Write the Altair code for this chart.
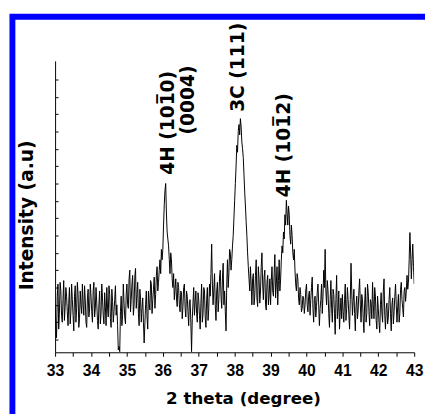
import altair as alt
import pandas as pd

# 2 theta grid: samples every 0.04 deg from 33.00, plus samples half-way between them
theta_start = 33.0
theta_step = 0.04

# intensity (a.u.) at 33.00, 33.04, ... 43.00
intensity_on_grid = [
    # 33.00 - 33.96
    300, 110, 420, 250, 380, 200, 440, 290, 350, 180, 400, 260, 330, 150, 410, 280, 360, 220, 300, 420, 240, 330, 170, 390, 270,
    # 34.00 - 34.96
    350, 200, 430, 280, 310, 160, 380, 250, 340, 190, 290, 400, 230, 360, 170, 320, 260, 410, 300, 40, 30, 350, 240, 310, 190,
    # 35.00 - 35.96
    420, 280, 500, 330, 470, 300, 510, 360, 250, 390, 200, 340, 80, 300, 230, 380, 270, 420, 330, 460, 360, 520, 430, 560, 620,
    # 36.00 - 36.96
    620, 880, 1000, 720, 640, 480, 560, 400, 330, 450, 290, 400, 260, 370, 290, 420, 230, 350, 180, 330, 30, 310, 240, 380, 200,
    # 37.00 - 37.96
    330, 160, 420, 250, 380, 170, 400, 280, 350, 650, 300, 480, 210, 430, 330, 500, 280, 540, 380, 150, 560, 480, 600, 560, 700,
    # 38.00 - 38.96
    900, 1100, 1180, 1340, 1374, 1240, 1150, 950, 780, 600, 450, 520, 300, 480, 350, 560, 290, 450, 380, 600, 330, 500, 270, 470, 360,
    # 39.00 - 39.96
    300, 520, 350, 590, 420, 300, 560, 450, 640, 720, 820, 903, 760, 820, 650, 700, 560, 500, 380, 450, 300, 360, 280, 340, 300,
    # 40.00 - 40.96
    420, 260, 380, 330, 460, 200, 350, 290, 420, 180, 330, 250, 500, 620, 300, 380, 170, 440, 200, 360, 130, 470, 270, 160, 340,
    # 41.00 - 41.96
    360, 200, 420, 280, 330, 160, 540, 240, 390, 150, 350, 270, 450, 200, 330, 140, 400, 250, 370, 180, 310, 430, 220, 350, 160,
    # 42.00 - 43.00
    280, 140, 370, 200, 450, 160, 310, 230, 400, 150, 340, 260, 420, 200, 360, 250, 430, 280, 380, 320, 470, 430, 717, 450, 650, 420,
]
# intensity at 33.02, 33.06, ... 42.98 (half-way samples)
intensity_between = [
    190, 350, 160, 430, 240, 330, 210, 400, 260, 310, 190, 420, 240, 350, 200, 430, 170, 380, 250, 300, 410, 200, 340, 230, 420,
    260, 380, 230, 400, 210, 300, 190, 420, 240, 370, 180, 280, 410, 220, 390, 200, 330, 240, 180, 60, 260, 180, 420, 230, 360,
    300, 450, 260, 420, 240, 460, 280, 430, 180, 330, 280, 200, 190, 380, 160, 310, 440, 250, 390, 280, 470, 380, 500, 480, 560,
    760, 960, 830, 680, 560, 600, 450, 480, 390, 340, 430, 300, 380, 220, 400, 280, 380, 260, 320, 200, 220, 400, 320, 250, 370,
    240, 310, 200, 400, 230, 330, 210, 420, 480, 420, 390, 300, 380, 260, 460, 350, 450, 300, 260, 420, 400, 620, 500, 640, 800,
    1000, 1220, 1300, 1280, 1330, 1200, 1050, 870, 700, 520, 380, 420, 450, 300, 470, 340, 520, 310, 520, 420, 460, 300, 430, 300, 450,
    440, 380, 480, 340, 520, 440, 380, 560, 600, 680, 760, 830, 870, 700, 760, 600, 620, 420, 480, 340, 400, 260, 350, 250, 380,
    300, 350, 240, 400, 280, 330, 230, 370, 300, 280, 420, 350, 400, 380, 440, 250, 330, 280, 390, 250, 330, 220, 380, 260, 220,
    260, 330, 210, 400, 240, 330, 380, 320, 250, 290, 220, 380, 300, 360, 220, 310, 200, 420, 260, 330, 220, 300, 400, 210, 350,
    200, 300, 250, 380, 240, 280, 190, 330, 250, 300, 190, 350, 300, 290, 200, 390, 330, 230, 400, 380, 390, 560, 600, 560, 520,
]

two_theta, intensity = [], []
for i, v in enumerate(intensity_on_grid):
    two_theta.append(round(theta_start + i * theta_step, 2))
    intensity.append(v)
    if i < len(intensity_between):
        two_theta.append(round(theta_start + i * theta_step + theta_step / 2, 2))
        intensity.append(intensity_between[i])

# peak annotations
label_text = ["4H (101\u03050)", "(0004)", "3C (111)", "4H (101\u03052)"]
label_theta = [36.32, 36.88, 38.26, 39.55]
label_intensity = [1050, 1283, 1413, 921]

x_ticks = [33 + 0.5 * i for i in range(21)]
y_ticks = list(range(100, 1700, 100))

df = pd.DataFrame({"two_theta": two_theta, "intensity": intensity})
df_lab = pd.DataFrame({"two_theta": label_theta, "intensity": label_intensity, "label": label_text})
df_frame = pd.DataFrame({"f": [0]})

W, H = 366, 297

x_scale = alt.Scale(domain=[33, 43], nice=False, zero=False)
y_scale = alt.Scale(domain=[26.4, 1707], nice=False, zero=False)

x_axis = alt.Axis(
    values=x_ticks,
    labelExpr="datum.value % 1 === 0 ? format(datum.value, 'd') : ''",
    tickSize=4, tickColor="black", domainColor="black", labelColor="black",
    labelPadding=7, labelFont="Liberation Sans", labelFontSize=16, labelFontWeight="bold",
    labelFlush=False, labelOverlap=False, grid=False,
    title="2 theta (degree)", titleFont="DejaVu Sans", titleFontSize=17, titleFontWeight="bold",
    titleColor="black", titleX=191.5, titleY=52, titleBaseline="alphabetic", titleAlign="center",
)
y_axis = alt.Axis(
    orient="right", offset=-W, values=y_ticks, labels=False, tickSize=3,
    tickColor="black", domainColor="black", grid=False,
    title="Intensity (a.u)", titleFont="DejaVu Sans", titleFontSize=19, titleFontWeight="bold",
    titleColor="black", titleAngle=270, titleX=-23, titleY=157,
    titleAlign="center", titleBaseline="alphabetic",
)

frame = alt.Chart(df_frame).mark_rect(filled=False, stroke="#0000ff", strokeWidth=6).encode(
    x=alt.value(-43.5), x2=alt.value(700), y=alt.value(-45), y2=alt.value(700)
)

line = alt.Chart(df).mark_line(color="black", strokeWidth=1, clip=True).encode(
    x=alt.X("two_theta:Q", scale=x_scale, axis=x_axis),
    y=alt.Y("intensity:Q", scale=y_scale, axis=y_axis),
)

labels = alt.Chart(df_lab).mark_text(
    angle=270, align="left", baseline="alphabetic",
    font="DejaVu Sans", fontWeight="bold", fontSize=19, color="black",
).encode(
    x=alt.X("two_theta:Q", scale=x_scale, axis=x_axis),
    y=alt.Y("intensity:Q", scale=y_scale, axis=y_axis),
    text="label:N",
)

chart = alt.layer(frame, line, labels).properties(
    width=W, height=H,
    padding={"left": 48, "top": 50, "right": 11, "bottom": 59},
    autosize="none",
    background="white",
).configure_view(stroke=None)

chart.save("out.html", embed_options={"renderer": "svg", "actions": False})
